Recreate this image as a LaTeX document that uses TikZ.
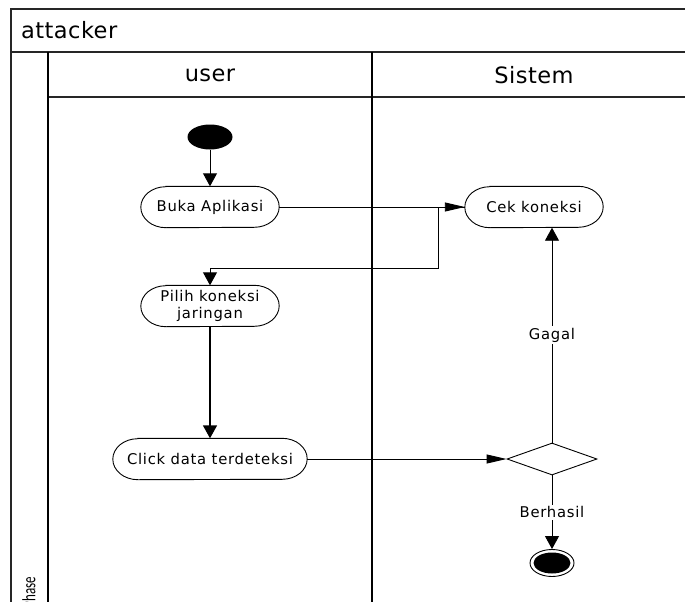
\documentclass[tikz,border=0pt]{standalone}
\usepackage{fontspec}
\setmainfont{DejaVu Sans}
\newfontfamily\labelfont[LetterSpace=5]{DejaVu Sans}
\newfontfamily\headfont[LetterSpace=2]{DejaVu Sans}
\newfontfamily\phasefont{Carlito}
\usetikzlibrary{arrows.meta,shapes.geometric}

% outline of an action: flat top and bottom, elliptic ends
\newcommand\actoutline[1]{%
  \draw[actedge] ([xshift=25pt]#1.north west) -- ([xshift=-25pt]#1.north east)
    arc[start angle=90,end angle=-90,x radius=25pt,y radius=20.5pt]
    -- ([xshift=25pt]#1.south west)
    arc[start angle=270,end angle=90,x radius=25pt,y radius=20.5pt] -- cycle;}

\begin{document}
\begin{tikzpicture}[x=1pt,y=1pt,
  frame/.style={line width=1.1pt, draw=black!85},
  laneline/.style={line width=2pt, draw=black},
  actedge/.style={line width=0.9pt, draw=black},
  act/.style={draw=none, minimum width=#1, minimum height=41pt, inner sep=0pt,
    align=center, font=\labelfont\fontsize{14.8}{17.5}\selectfont},
  head/.style={font=\headfont\fontsize{22.5}{26}\selectfont, inner sep=0pt},
  flow/.style={line width=0.9pt},
  varr/.style={flow, -{Triangle[length=13pt,width=14pt]}},
  harr/.style={flow, -{Triangle[length=20pt,width=9pt]}},
  lbl/.style={fill=white, inner sep=2pt, font=\labelfont\fontsize{14.8}{17.5}\selectfont},
  startnode/.style={ellipse, fill=black, minimum width=45pt, minimum height=25pt, inner sep=0pt},
  decision/.style={diamond, draw, line width=0.9pt, minimum width=90pt, minimum height=32pt, inner sep=0pt},
  endnode/.style={ellipse, draw, line width=0.9pt, minimum width=44pt, minimum height=27pt, inner sep=0pt,
    path picture={\fill[black] (path picture bounding box.center) ellipse (18.5pt and 10.5pt);}}
]
\path[use as bounding box] (0,0) rectangle (685,-602);
\clip (0,0) rectangle (685,-602);

% pool and lanes
\draw[frame] (11,-640) -- (11,-9) -- (720,-9);
\draw[frame] (11,-52) -- (720,-52);
\draw[frame] (48,-97) -- (720,-97);
\draw[laneline] (48,-52) -- (48,-640);
\draw[laneline] (372,-52) -- (372,-640);

\node[head, anchor=west] (pool) at (21,-30) {attacker};
\node[head] (laneuser) at (210,-75) {user};
\node[head] (lanesys) at (534,-75) {Sistem};
\node[rotate=90, anchor=east, inner sep=0pt] (phase) at (29,-577)
  {\phasefont\fontsize{13}{15}\selectfont\scalebox{1}[1.45]{Phase}};

% actions
\node[startnode] (start) at (210,-137) {};
\node[act=138pt] (buka) at (210,-207) {Buka Aplikasi};
\node[act=138pt] (cek) at (534,-207) {Cek koneksi};
\node[act=138pt] (pilih) at (210,-306) {Pilih koneksi\\jaringan};
\node[act=194pt] (click) at (210,-459) {Click data terdeteksi};
\node[decision] (dec) at (552,-459) {};
\node[endnode] (stop) at (552,-563) {};
\coordinate (turn) at (210,-268);

\actoutline{buka}
\actoutline{cek}
\actoutline{pilih}
\actoutline{click}

% flows
\draw[varr] (start) -- (buka);
\draw[harr] (buka.east) -- (cek.west);
\draw[varr] (cek.west) -- ++(-26,0) |- (turn) -- (pilih.north);
\draw[varr, line width=1.6pt] (pilih.south) -- (click.north);
\draw[harr] (click.east) -- (dec.west);
\draw[varr] (dec.north) -- (dec.north |- cek.south) node[lbl, midway] {Gagal};
\draw[varr] (dec.south) -- (stop.north) node[lbl, midway] {Berhasil};
\end{tikzpicture}
\end{document}
